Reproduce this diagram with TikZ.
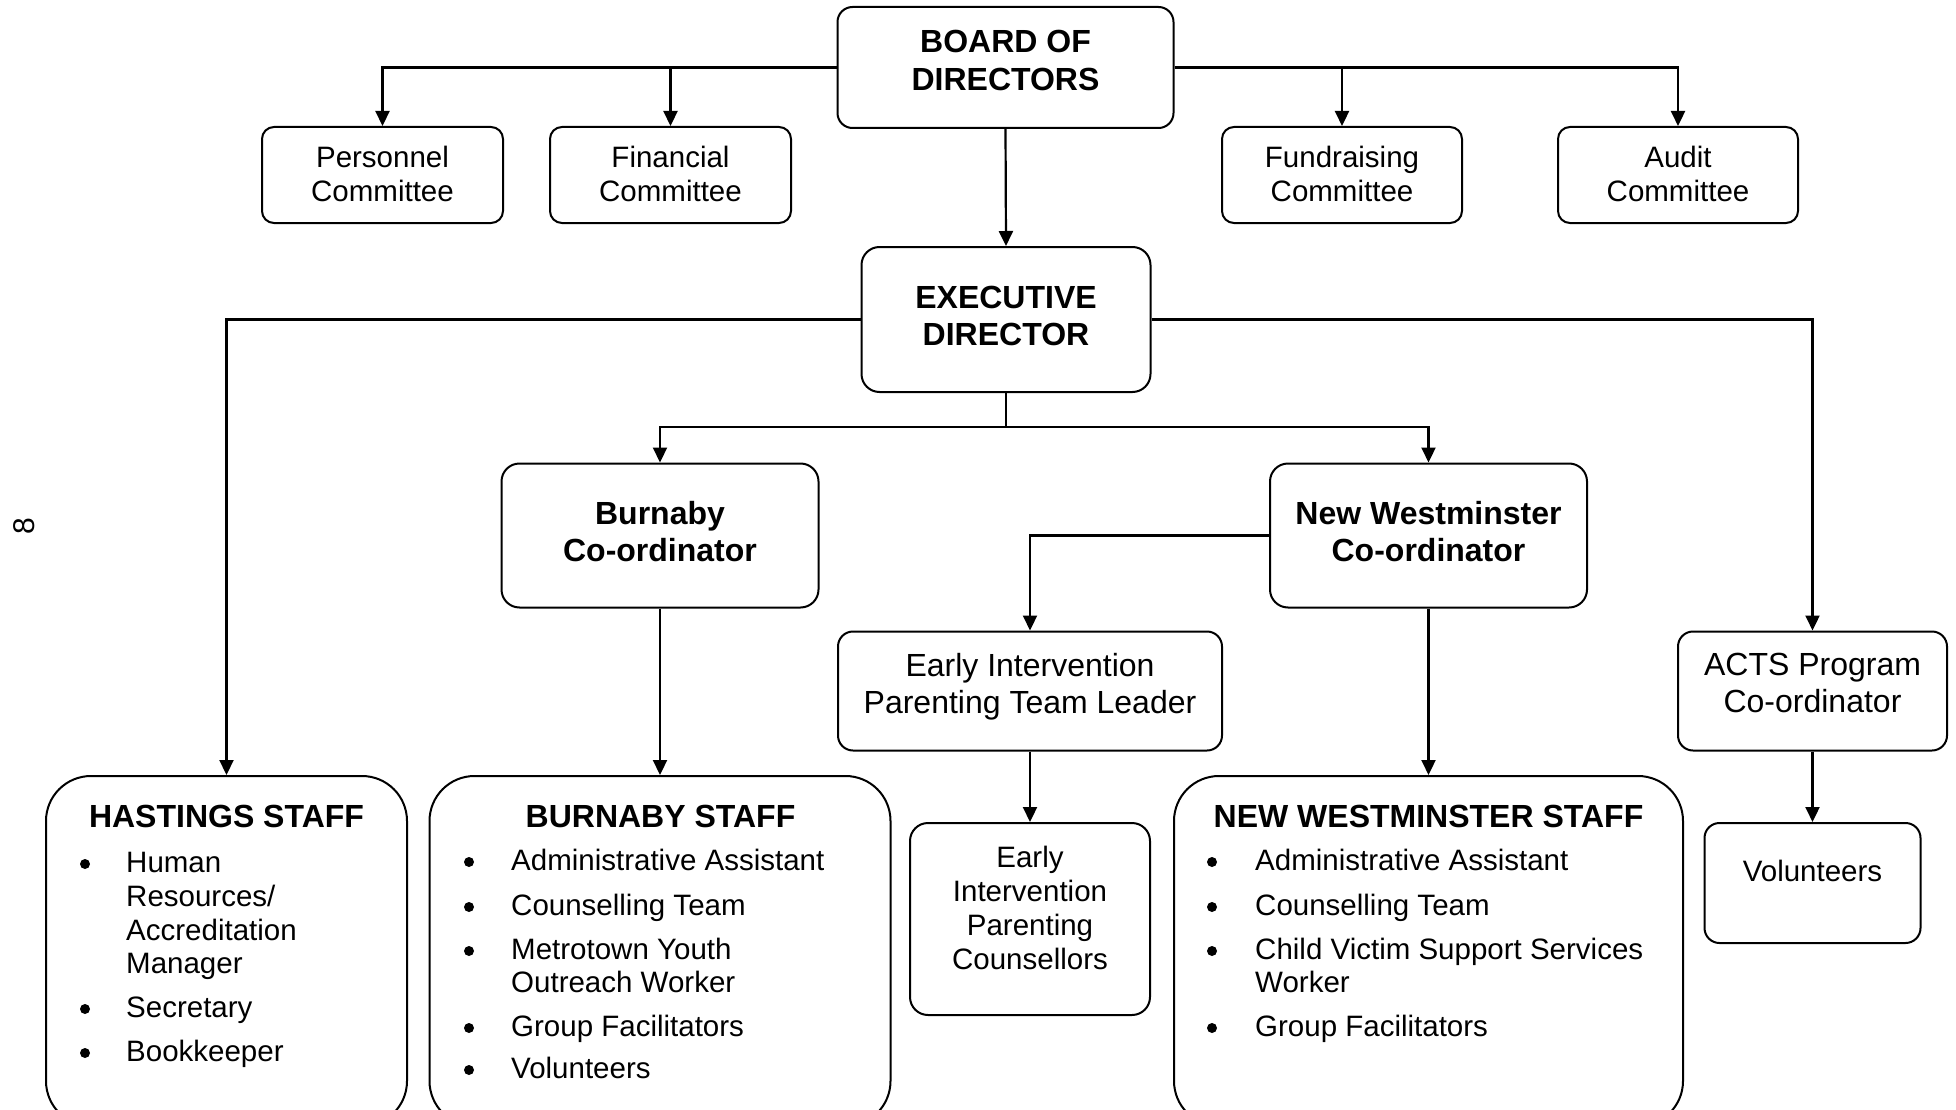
\documentclass[tikz,border=0pt]{standalone}
\usepackage{fontspec}
\setmainfont{Liberation Sans}
\usetikzlibrary{arrows.meta}
\begin{document}
\begin{tikzpicture}[x=1pt,y=-1pt,
  box/.style={draw, line width=2pt, rounded corners=14pt, inner sep=0pt},
  staff/.style={box, rounded corners=45pt},
  reg/.style={font=\fontsize{29.5}{34}\selectfont, inner sep=0pt, align=center},
  regb/.style={font=\fontsize{32}{37}\selectfont, inner sep=0pt, align=center},
  bld/.style={font=\fontsize{32}{37}\selectfont\bfseries, inner sep=0pt, align=center},
  item/.style={font=\fontsize{29.5}{34}\selectfont, inner sep=0pt, anchor=base west},
  bul/.style={circle, fill, inner sep=0pt, minimum size=10pt},
  ln/.style={line width=2.2pt},
  arr/.style={line width=2.2pt, -{Triangle[length=15pt,width=14pt]}},
]
\useasboundingbox (0,0) rectangle (1956,1110);
\clip (0,0) rectangle (1956,1110);

% page number
\node[font=\fontsize{30}{30}\selectfont, rotate=90, inner sep=0pt] (pgnum) at (24,526) {8};

% top level
\node[box, rounded corners=15pt, minimum width=336pt, minimum height=121pt] (board) at (1005.5,67.5) {};
\node[bld, anchor=north, font=\fontsize{32}{38}\selectfont\bfseries] (boardt) at (1005.5,30) {BOARD OF\\DIRECTORS};

\node[box, rounded corners=12pt, minimum width=241pt, minimum height=96pt] (pc) at (382.5,175) {};
\node[reg, anchor=north] (pct) at (382.5,146) {Personnel\\Committee};
\node[box, rounded corners=12pt, minimum width=241pt, minimum height=96pt] (fc) at (670.5,175) {};
\node[reg, anchor=north] (fct) at (670.5,146) {Financial\\Committee};
\node[box, rounded corners=12pt, minimum width=240pt, minimum height=96pt] (fr) at (1342,175) {};
\node[reg, anchor=north] (frt) at (1342,146) {Fundraising\\Committee};
\node[box, rounded corners=12pt, minimum width=240pt, minimum height=96pt] (ac) at (1678,175) {};
\node[reg, anchor=north] (act) at (1678,146) {Audit\\Committee};

\node[box, rounded corners=18pt, minimum width=289pt, minimum height=145pt] (exec) at (1006,319.5) {};
\node[bld, anchor=north] (exect) at (1006,286) {EXECUTIVE\\DIRECTOR};

% coordinators
\node[box, rounded corners=18pt, minimum width=317pt, minimum height=144pt] (bc) at (660,535.5) {};
\node[bld, anchor=north] (bct) at (660,501) {Burnaby\\Co-ordinator};
\node[box, rounded corners=18pt, minimum width=317pt, minimum height=144pt] (nwc) at (1428.5,535.5) {};
\node[bld, anchor=north] (nwct) at (1428.5,501) {New Westminster\\Co-ordinator};

\node[box, rounded corners=15pt, minimum width=384pt, minimum height=119pt] (eil) at (1030,691) {};
\node[regb, anchor=north] (eilt) at (1030,653) {Early Intervention\\Parenting Team Leader};
\node[box, rounded corners=15pt, minimum width=269pt, minimum height=119pt] (acts) at (1812.5,691) {};
\node[regb, anchor=north] (actst) at (1812.5,653) {ACTS Program\\Co-ordinator};

\node[box, rounded corners=18pt, minimum width=240pt, minimum height=192pt] (eic) at (1030,919) {};
\node[reg, anchor=north] (eict) at (1030,846) {Early\\Intervention\\Parenting\\Counsellors};
\node[box, rounded corners=15pt, minimum width=216pt, minimum height=120pt] (vol) at (1812.5,883) {};
\node[reg, anchor=base] (volt) at (1812.5,881) {Volunteers};

% staff boxes
\node[staff, minimum width=361pt, minimum height=350pt] (hs) at (226.5,951) {};
\node[staff, minimum width=461pt, minimum height=350pt] (bs) at (660,951) {};
\node[staff, minimum width=509pt, minimum height=350pt] (nws) at (1428.5,951) {};

% Hastings staff
\node[bld, anchor=base] (hst) at (226.5,827) {HASTINGS STAFF};
\node[bul] (hb1) at (85,864) {};
\node[item] (h1) at (126,872) {Human};
\node[item] (h1b) at (126,906) {Resources/};
\node[item] (h1c) at (126,940) {Accreditation};
\node[item] (h1d) at (126,973) {Manager};
\node[bul] (hb2) at (85,1009) {};
\node[item] (h2) at (126,1017) {Secretary};
\node[bul] (hb3) at (85,1053) {};
\node[item] (h3) at (126,1061) {Bookkeeper};

% Burnaby staff
\node[bld, anchor=base] (bst) at (660.5,827) {BURNABY STAFF};
\node[bul] (bb1) at (469,862) {};
\node[item] (b1) at (511,870) {Administrative Assistant};
\node[bul] (bb2) at (469,907) {};
\node[item] (b2) at (511,915) {Counselling Team};
\node[bul] (bb3) at (469,951) {};
\node[item] (b3) at (511,959) {Metrotown Youth};
\node[item] (b3b) at (511,992) {Outreach Worker};
\node[bul] (bb4) at (469,1028) {};
\node[item] (b4) at (511,1036) {Group Facilitators};
\node[bul] (bb5) at (469,1070) {};
\node[item] (b5) at (511,1078) {Volunteers};

% New Westminster staff
\node[bld, anchor=base] (nwst) at (1428.5,827) {NEW WESTMINSTER STAFF};
\node[bul] (nb1) at (1212,862) {};
\node[item] (n1) at (1255,870) {Administrative Assistant};
\node[bul] (nb2) at (1212,907) {};
\node[item] (n2) at (1255,915) {Counselling Team};
\node[bul] (nb3) at (1212,951) {};
\node[item] (n3) at (1255,959) {Child Victim Support Services};
\node[item] (n3b) at (1255,992) {Worker};
\node[bul] (nb4) at (1212,1028) {};
\node[item] (n4) at (1255,1036) {Group Facilitators};

% connectors
\draw[arr] (board.west) -| (pc.north);
\draw[arr] (board.west -| fc.north) -- (fc.north);
\draw[arr] (board.east) -| (ac.north);
\draw[arr] (board.east -| fr.north) -- (fr.north);
\draw[arr] (board.south) -- (exec.north);

\draw[arr] (exec.west) -| (hs.north);
\draw[arr] (exec.east) -| (acts.north);
\coordinate (split) at (1006,427);
\draw[ln] (exec.south) -- (split);
\draw[arr] (split) -| (bc.north);
\draw[arr] (split) -| (nwc.north);
\draw[arr] (nwc.west) -| (eil.north);

\draw[arr] (bc.south) -- (bs.north);
\draw[arr] (nwc.south) -- (nws.north);
\draw[arr] (eil.south) -- (eic.north);
\draw[arr] (acts.south) -- (vol.north);
\end{tikzpicture}
\end{document}
